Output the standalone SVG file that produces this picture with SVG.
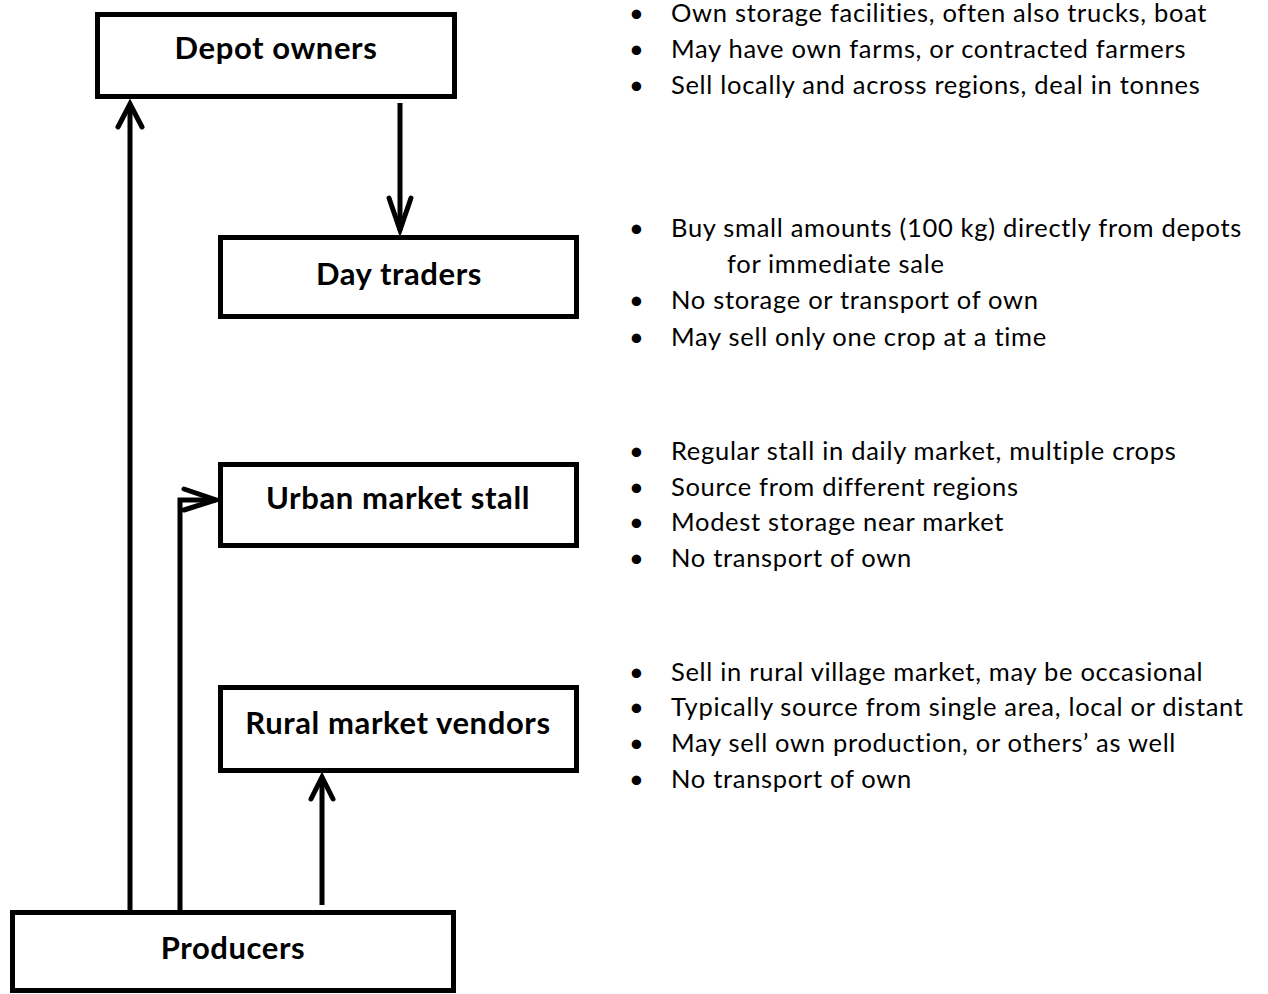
<svg xmlns="http://www.w3.org/2000/svg" width="1268" height="994" viewBox="0 0 1268 994">
<style>
.box{fill:#fff;stroke:#000;stroke-width:5}
.lbl{font-family:Lato,"Open Sans","Liberation Sans",sans-serif;font-weight:bold;font-size:31px;letter-spacing:0.6px;text-anchor:middle;fill:#000}
.con{fill:none;stroke:#000;stroke-width:5;stroke-linecap:butt;stroke-linejoin:miter}
.head{fill:none;stroke:#000;stroke-width:5;stroke-linecap:round;stroke-linejoin:miter}
.txt{font-family:Lato,"Open Sans","Liberation Sans",sans-serif;font-size:25.5px;letter-spacing:0.7px;fill:#000}
</style>
<rect width="1268" height="994" fill="#fff"/>
<g id="connectors">
<path class="con" d="M400,103 V230"/>
<path class="head" d="M389,198 L400,230 L411,198"/>
<path class="con" d="M130,912 V106"/>
<path class="head" d="M118,127 L130,104 L142,127"/>
<path class="con" d="M180,912 V500 H216"/>
<path class="head" d="M184,489 L216,500 L184,510"/>
<path class="con" d="M322,905 V778"/>
<path class="head" d="M311,799 L322,777 L333,799"/>
</g>
<g id="depot-owners">
<rect class="box" x="97.5" y="14.5" width="357" height="82"/>
<text class="lbl" x="276" y="59">Depot owners</text>
</g>
<g id="day-traders">
<rect class="box" x="220.5" y="237.5" width="356" height="79"/>
<text class="lbl" x="399" y="285">Day traders</text>
</g>
<g id="urban-market-stall">
<rect class="box" x="220.5" y="464.5" width="356" height="81"/>
<text class="lbl" x="398" y="509">Urban market stall</text>
</g>
<g id="rural-market-vendors">
<rect class="box" x="220.5" y="687.5" width="356" height="83"/>
<text class="lbl" x="398" y="734">Rural market vendors</text>
</g>
<g id="producers">
<rect class="box" x="12.5" y="912.5" width="441" height="78"/>
<text class="lbl" x="233" y="959">Producers</text>
</g>
<g id="notes" class="txt">
<text x="629" y="22">•</text><text x="671" y="22">Own storage facilities, often also trucks, boat</text>
<text x="629" y="58">•</text><text x="671" y="58">May have own farms, or contracted farmers</text>
<text x="629" y="94">•</text><text x="671" y="94">Sell locally and across regions, deal in tonnes</text>
<text x="629" y="237">•</text><text x="671" y="237">Buy small amounts (100 kg) directly from depots</text>
<text x="727" y="273">for immediate sale</text>
<text x="629" y="309">•</text><text x="671" y="309">No storage or transport of own</text>
<text x="629" y="346">•</text><text x="671" y="346">May sell only one crop at a time</text>
<text x="629" y="460">•</text><text x="671" y="460">Regular stall in daily market, multiple crops</text>
<text x="629" y="496">•</text><text x="671" y="496">Source from different regions</text>
<text x="629" y="531">•</text><text x="671" y="531">Modest storage near market</text>
<text x="629" y="567">•</text><text x="671" y="567">No transport of own</text>
<text x="629" y="681">•</text><text x="671" y="681">Sell in rural village market, may be occasional</text>
<text x="629" y="716">•</text><text x="671" y="716">Typically source from single area, local or distant</text>
<text x="629" y="752">•</text><text x="671" y="752">May sell own production, or others’ as well</text>
<text x="629" y="788">•</text><text x="671" y="788">No transport of own</text>
</g>
</svg>
